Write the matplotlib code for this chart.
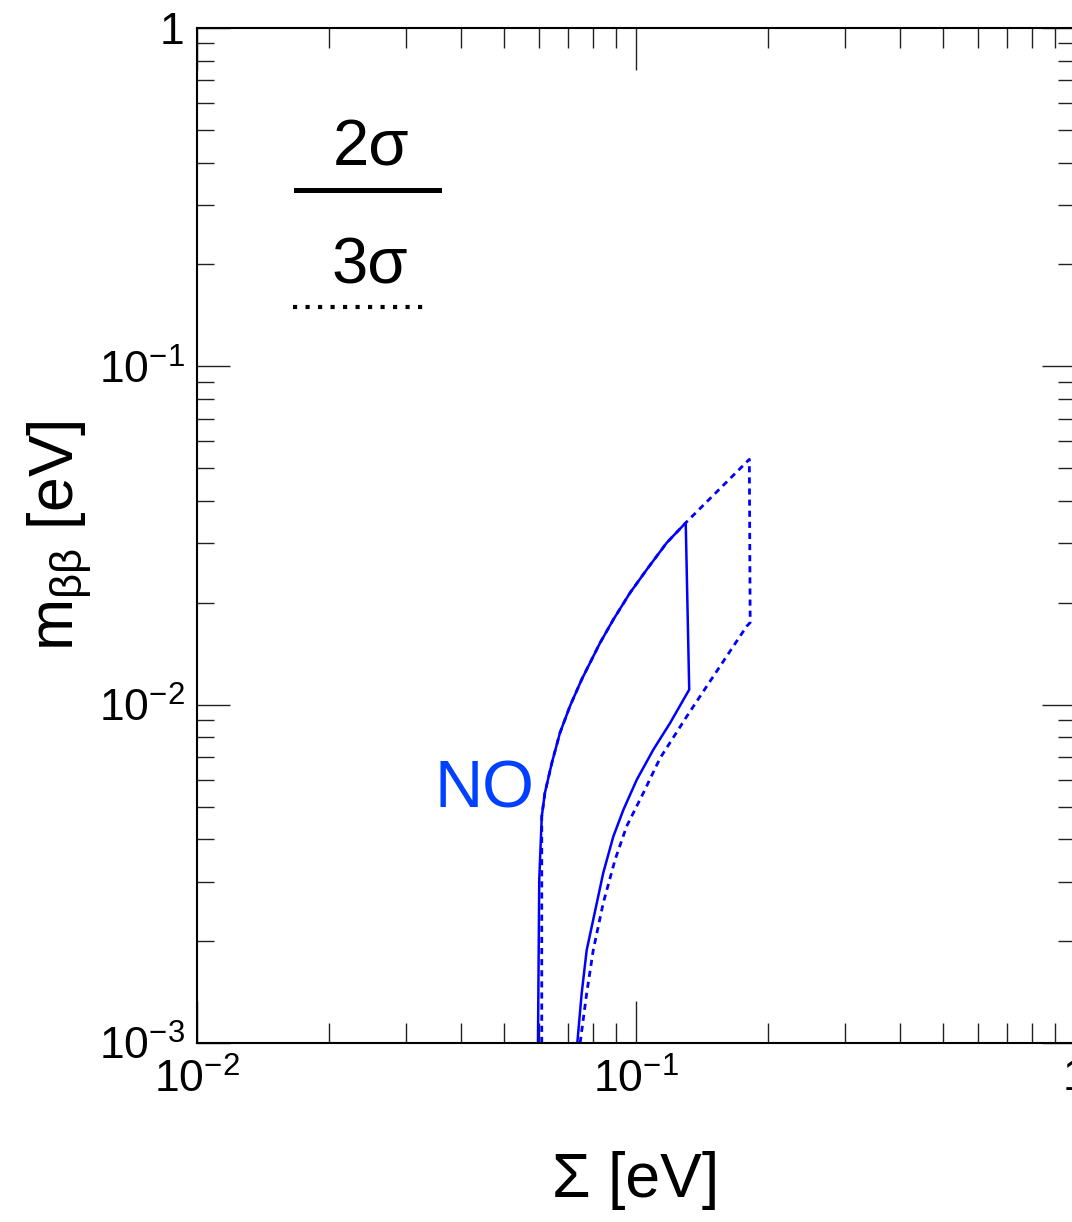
import numpy as np
import matplotlib
matplotlib.use("Agg")
import matplotlib.pyplot as plt
from matplotlib.lines import Line2D
from matplotlib.ticker import FixedLocator, FuncFormatter, NullFormatter, LogLocator

plt.rcParams['font.family'] = ['Liberation Sans', 'DejaVu Sans']
plt.rcParams['mathtext.fontset'] = 'custom'
plt.rcParams['mathtext.rm'] = 'Liberation Sans'
plt.rcParams['mathtext.it'] = 'Liberation Sans:italic'
plt.rcParams['mathtext.bf'] = 'Liberation Sans:bold'

# upper (left) edge of the NO region, shared by both contours
upper_x = [0.0610, 0.0620, 0.0643, 0.0671, 0.0707, 0.0752, 0.0772, 0.0828, 0.0888,
           0.0969, 0.1058, 0.1175, 0.1298]
upper_y = [0.00467, 0.00548, 0.00672, 0.00825, 0.00989, 0.01186, 0.0127, 0.01522, 0.01785,
           0.0214, 0.02508, 0.0301, 0.03448]

# 2 sigma contour (solid): left vertical + upper edge + right side + lower edge
sum2_x = [0.0598, 0.0602] + upper_x + [0.1322, 0.1196, 0.1095, 0.1004, 0.0936, 0.0888,
                                       0.0842, 0.0814, 0.0772, 0.0752, 0.0735]
mbb2_y = [0.0010, 0.003035] + upper_y + [0.01108, 0.00883, 0.00736, 0.0060, 0.00489, 0.00408,
                                         0.00318, 0.00259, 0.00188, 0.0014, 0.0010]

# 3 sigma contour (dotted)
sum3_x = [0.0610] + upper_x + [0.1812, 0.1820, 0.1787, 0.1609, 0.1449, 0.1305, 0.1134, 0.1039,
                               0.0952, 0.0896, 0.0842, 0.0799, 0.0772, 0.0746]
mbb3_y = [0.0010] + upper_y + [0.0531, 0.01748, 0.01705, 0.0139, 0.01133, 0.00923, 0.00694, 0.00548,
                               0.00437, 0.00348, 0.00259, 0.00188, 0.0014, 0.0010]

xtick_vals = [1e-2, 1e-1, 1.0]
xtick_labels = [r'$10^{-2}$', r'$10^{-1}$', '1']
ytick_vals = [1e-3, 1e-2, 1e-1, 1.0]
ytick_labels = [r'$10^{-3}$', r'$10^{-2}$', r'$10^{-1}$', '1']

fig = plt.figure(figsize=(10.72, 12.22), dpi=100)
ax = fig.add_axes([197/1072, 179/1222, 878/1072, 1015/1222])

ax.plot(sum3_x, mbb3_y, color='#0000ff', lw=2.0, linestyle=(0, (2.2, 1.8)))
ax.plot(sum2_x, mbb2_y, color='#0000ff', lw=1.8, solid_joinstyle='miter')

ax.set_xscale('log')
ax.set_yscale('log')
ax.set_xlim(1e-2, 1)
ax.set_ylim(1e-3, 1)

ax.xaxis.set_major_locator(FixedLocator(xtick_vals))
ax.yaxis.set_major_locator(FixedLocator(ytick_vals))
ax.xaxis.set_minor_locator(LogLocator(base=10, subs=np.arange(2, 10)))
ax.yaxis.set_minor_locator(LogLocator(base=10, subs=np.arange(2, 10)))
ax.xaxis.set_major_formatter(FuncFormatter(lambda v, p: xtick_labels[xtick_vals.index(v)] if v in xtick_vals else ''))
ax.yaxis.set_major_formatter(FuncFormatter(lambda v, p: ytick_labels[ytick_vals.index(v)] if v in ytick_vals else ''))
ax.xaxis.set_minor_formatter(NullFormatter())
ax.yaxis.set_minor_formatter(NullFormatter())

ax.tick_params(axis='both', which='both', direction='in', top=True, right=True, width=1.0, color='#222222')
ax.tick_params(axis='x', which='major', length=30, pad=11, labelsize=32)
ax.tick_params(axis='x', which='minor', length=14.5)
ax.tick_params(axis='y', which='major', length=24, pad=9, labelsize=32)
ax.tick_params(axis='y', which='minor', length=12)
for s in ax.spines.values():
    s.set_linewidth(1.5)

ax.set_xlabel('Σ [eV]', fontsize=45)
ax.xaxis.set_label_coords(0.5, -0.135)
ax.xaxis.label.set_verticalalignment('center')
ax.set_ylabel(r'm$_\mathrm{ββ}$ [eV]', fontsize=45)
ax.yaxis.set_label_coords(-0.156, 0.5)
ax.yaxis.label.set_verticalalignment('center')

ax.text(0.271, 0.2325, 'NO', color='#0040ff', fontsize=48, transform=ax.transAxes,
        ha='left', va='baseline')

# legend for the sigma levels
fig.text(0.346, 1 - 165/1222, '2σ', fontsize=47, ha='center', va='baseline')
fig.text(0.345, 1 - 283/1222, '3σ', fontsize=47, ha='center', va='baseline')
fig.add_artist(Line2D([296/1072, 439/1072], [1 - 190/1222, 1 - 190/1222],
                      transform=fig.transFigure, color='black', lw=3.6))
fig.add_artist(Line2D([293/1072, 428/1072], [1 - 307/1222, 1 - 307/1222],
                      transform=fig.transFigure, color='black', lw=3.0, linestyle=(0, (1, 2))))

fig.savefig('out.png', dpi=100)
